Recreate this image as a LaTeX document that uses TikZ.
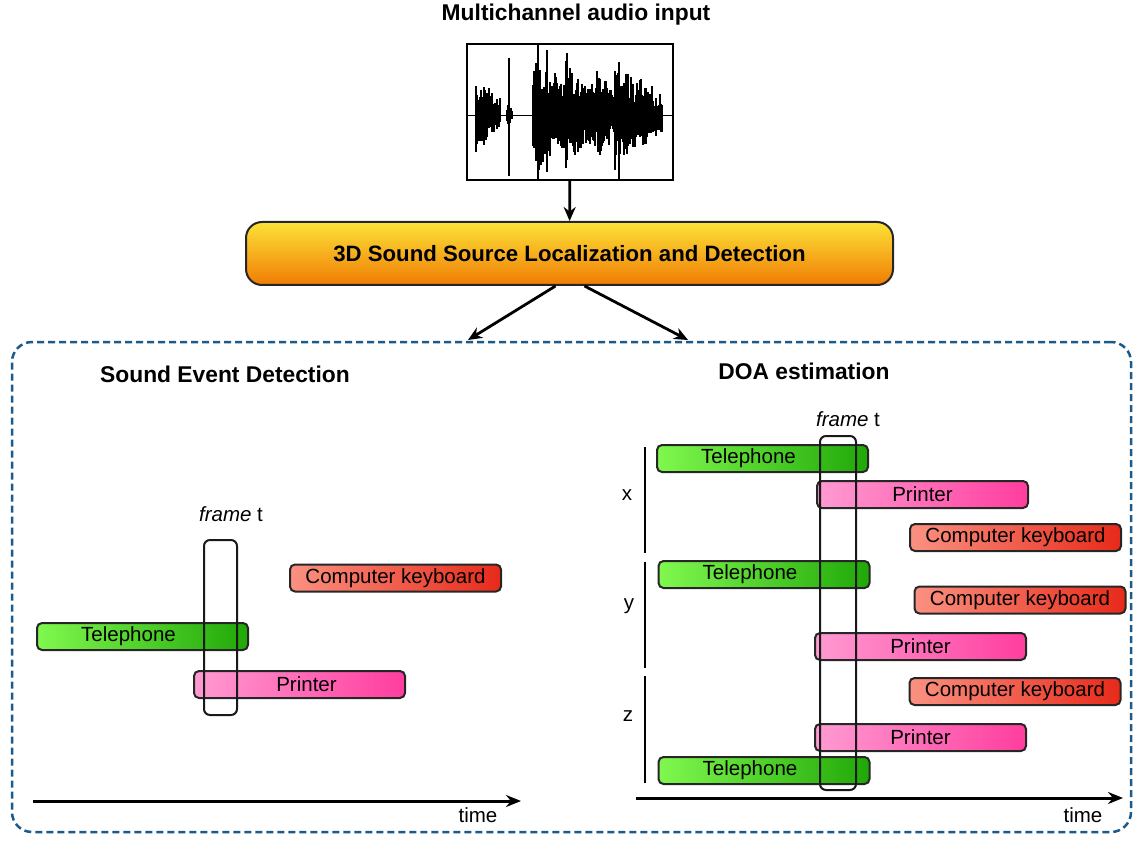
\documentclass[tikz,border=0pt]{standalone}
\usepackage{fontspec}
\setmainfont{Liberation Sans}
\usetikzlibrary{arrows.meta}
\definecolor{telL}{HTML}{80F84E}
\definecolor{telR}{HTML}{20A808}
\definecolor{prnL}{HTML}{FF9BD2}
\definecolor{prnR}{HTML}{FF3D9E}
\definecolor{kbdL}{HTML}{FB9181}
\definecolor{kbdR}{HTML}{E72A1A}
\definecolor{ssldT}{HTML}{FCE238}
\definecolor{ssldB}{HTML}{F07C04}
\definecolor{panelblue}{HTML}{1B5B8C}
\tikzset{
  event bar/.style={draw=black!85,line width=2pt,rounded corners=5pt,
    minimum width=211pt,minimum height=27pt,inner sep=0pt,
    font=\fontsize{20.5}{23}\selectfont},
  tel bar/.style={event bar,left color=telL,right color=telR,
    execute at end node={\hspace*{28pt}}},
  prn bar/.style={event bar,left color=prnL,right color=prnR},
  kbd bar/.style={event bar,left color=kbdL,right color=kbdR},
  frame box/.style={draw=black!90,line width=2pt,rounded corners=6pt,
    inner sep=0pt},
  head label/.style={font=\bfseries\fontsize{22.8}{26}\selectfont},
  plain label/.style={font=\fontsize{20.5}{24}\selectfont},
  flow arrow/.style={line width=2.8pt,-{Stealth[length=14pt,width=12pt]}},
  time axis/.style={line width=3pt,-{Stealth[length=15pt,width=12pt]}}
}

\begin{document}
\begin{tikzpicture}[x=1pt,y=-1pt]
  \useasboundingbox (0,0) rectangle (1140,842);
  % input and localization block
  \node[head label] (inputtitle) at (576,15) {Multichannel audio input};
  \node[draw,line width=1.6pt,minimum width=206pt,minimum height=136pt,
    inner sep=0pt] (wave) at (570,112) {};
  \begin{scope}
    \clip (wave.south west) rectangle (wave.north east);
    \pgfmathsetseed{11}
    \draw[line width=0.8pt] (467,115) -- (673,115);
    \foreach \s/\e/\amp in {476/500/38,507/512/14,533/566/64,566/592/55,
        592/615/50,615/640/58,640/662/40} {
      \foreach \xx in {\s,...,\e} {
        \pgfmathsetmacro{\env}{\amp*(1-0.5*(\xx-\s)/(\e-\s))}
        \pgfmathsetmacro{\up}{\env*(0.3+0.7*rnd)}
        \pgfmathsetmacro{\dn}{\env*(0.3+0.7*rnd)}
        \draw[line width=1.1pt] (\xx,115-\up) -- (\xx,115+\dn);
      }
    }
    \draw[line width=1.3pt] (509,58) -- (509,176) (538,45) -- (538,180)
      (619,62) -- (619,180) (547,50) -- (547,172) (567,53) -- (567,160);
  \end{scope}
  \node[draw=black!85,line width=2pt,rounded corners=16pt,
    top color=ssldT,bottom color=ssldB,minimum width=647pt,
    minimum height=63pt,font=\bfseries\fontsize{22.2}{27}\selectfont]
    (ssld) at (569.5,253.5) {3D Sound Source Localization and Detection};
  \draw[flow arrow] (wave) -- (ssld);

  % output panel
  \node[draw=panelblue,line width=2.5pt,dash pattern=on 7pt off 4pt,
    rounded corners=20pt,minimum width=1119pt,minimum height=490pt]
    (panel) at (571.5,587) {};
  \coordinate (sedhead) at (468,340);
  \coordinate (doahead) at (688,340);
  \draw[flow arrow] ([xshift=-14pt]ssld.south) -- (sedhead);
  \draw[flow arrow] ([xshift=15pt]ssld.south) -- (doahead);
  \node[head label] (sedtitle) at (225,374) {Sound Event Detection};
  \node[head label] (doatitle) at (804,371) {DOA estimation};

  % sound event detection
  \node[kbd bar] (kbd) at (395.5,578) {Computer keyboard};
  \node[tel bar] (tel) at (142.5,636.5) {Telephone};
  \node[prn bar,execute at begin node={\hspace*{14pt}}]
    (prn) at (299.5,684.5) {Printer};
  \node[frame box,minimum width=33pt,minimum height=175pt]
    (frameL) at (220.5,627.5) {};
  \node[plain label] (frameLlab) at (231,514) {\itshape frame\upshape{} t};
  \coordinate (timeLs) at (33,801);
  \coordinate (timeLe) at (521,801);
  \draw[time axis] (timeLs) -- (timeLe);
  \node[plain label] (timeL) at (478,815) {time};

  % DOA estimation
  \node[tel bar] (telx) at (762.5,458.5) {Telephone};
  \node[prn bar] (prnx) at (922.5,494.5) {Printer};
  \node[kbd bar] (kbdx) at (1015.5,537.5) {Computer keyboard};
  \node[tel bar] (tely) at (764,574.5) {Telephone};
  \node[kbd bar] (kbdy) at (1020,600) {Computer keyboard};
  \node[prn bar] (prny) at (920.5,646.5) {Printer};
  \node[kbd bar] (kbdz) at (1015,691.5) {Computer keyboard};
  \node[prn bar] (prnz) at (920.5,737.5) {Printer};
  \node[tel bar] (telz) at (764,770.5) {Telephone};
  \node[frame box,minimum width=36pt,minimum height=354pt]
    (frameR) at (838,613) {};
  \node[plain label] (frameRlab) at (848,419) {\itshape frame\upshape{} t};
  \node[plain label] (axx) at (627,495) {x};
  \node[plain label] (axy) at (629,606) {y};
  \node[plain label] (axz) at (628,716) {z};
  \draw[line width=2.4pt] (645,447) -- (645,553) (645,562) -- (645,668)
    (645,676) -- (645,783);
  \coordinate (timeRs) at (636,798);
  \coordinate (timeRe) at (1123,798);
  \draw[time axis] (timeRs) -- (timeRe);
  \node[plain label] (timeR) at (1083,815) {time};
\end{tikzpicture}
\end{document}
